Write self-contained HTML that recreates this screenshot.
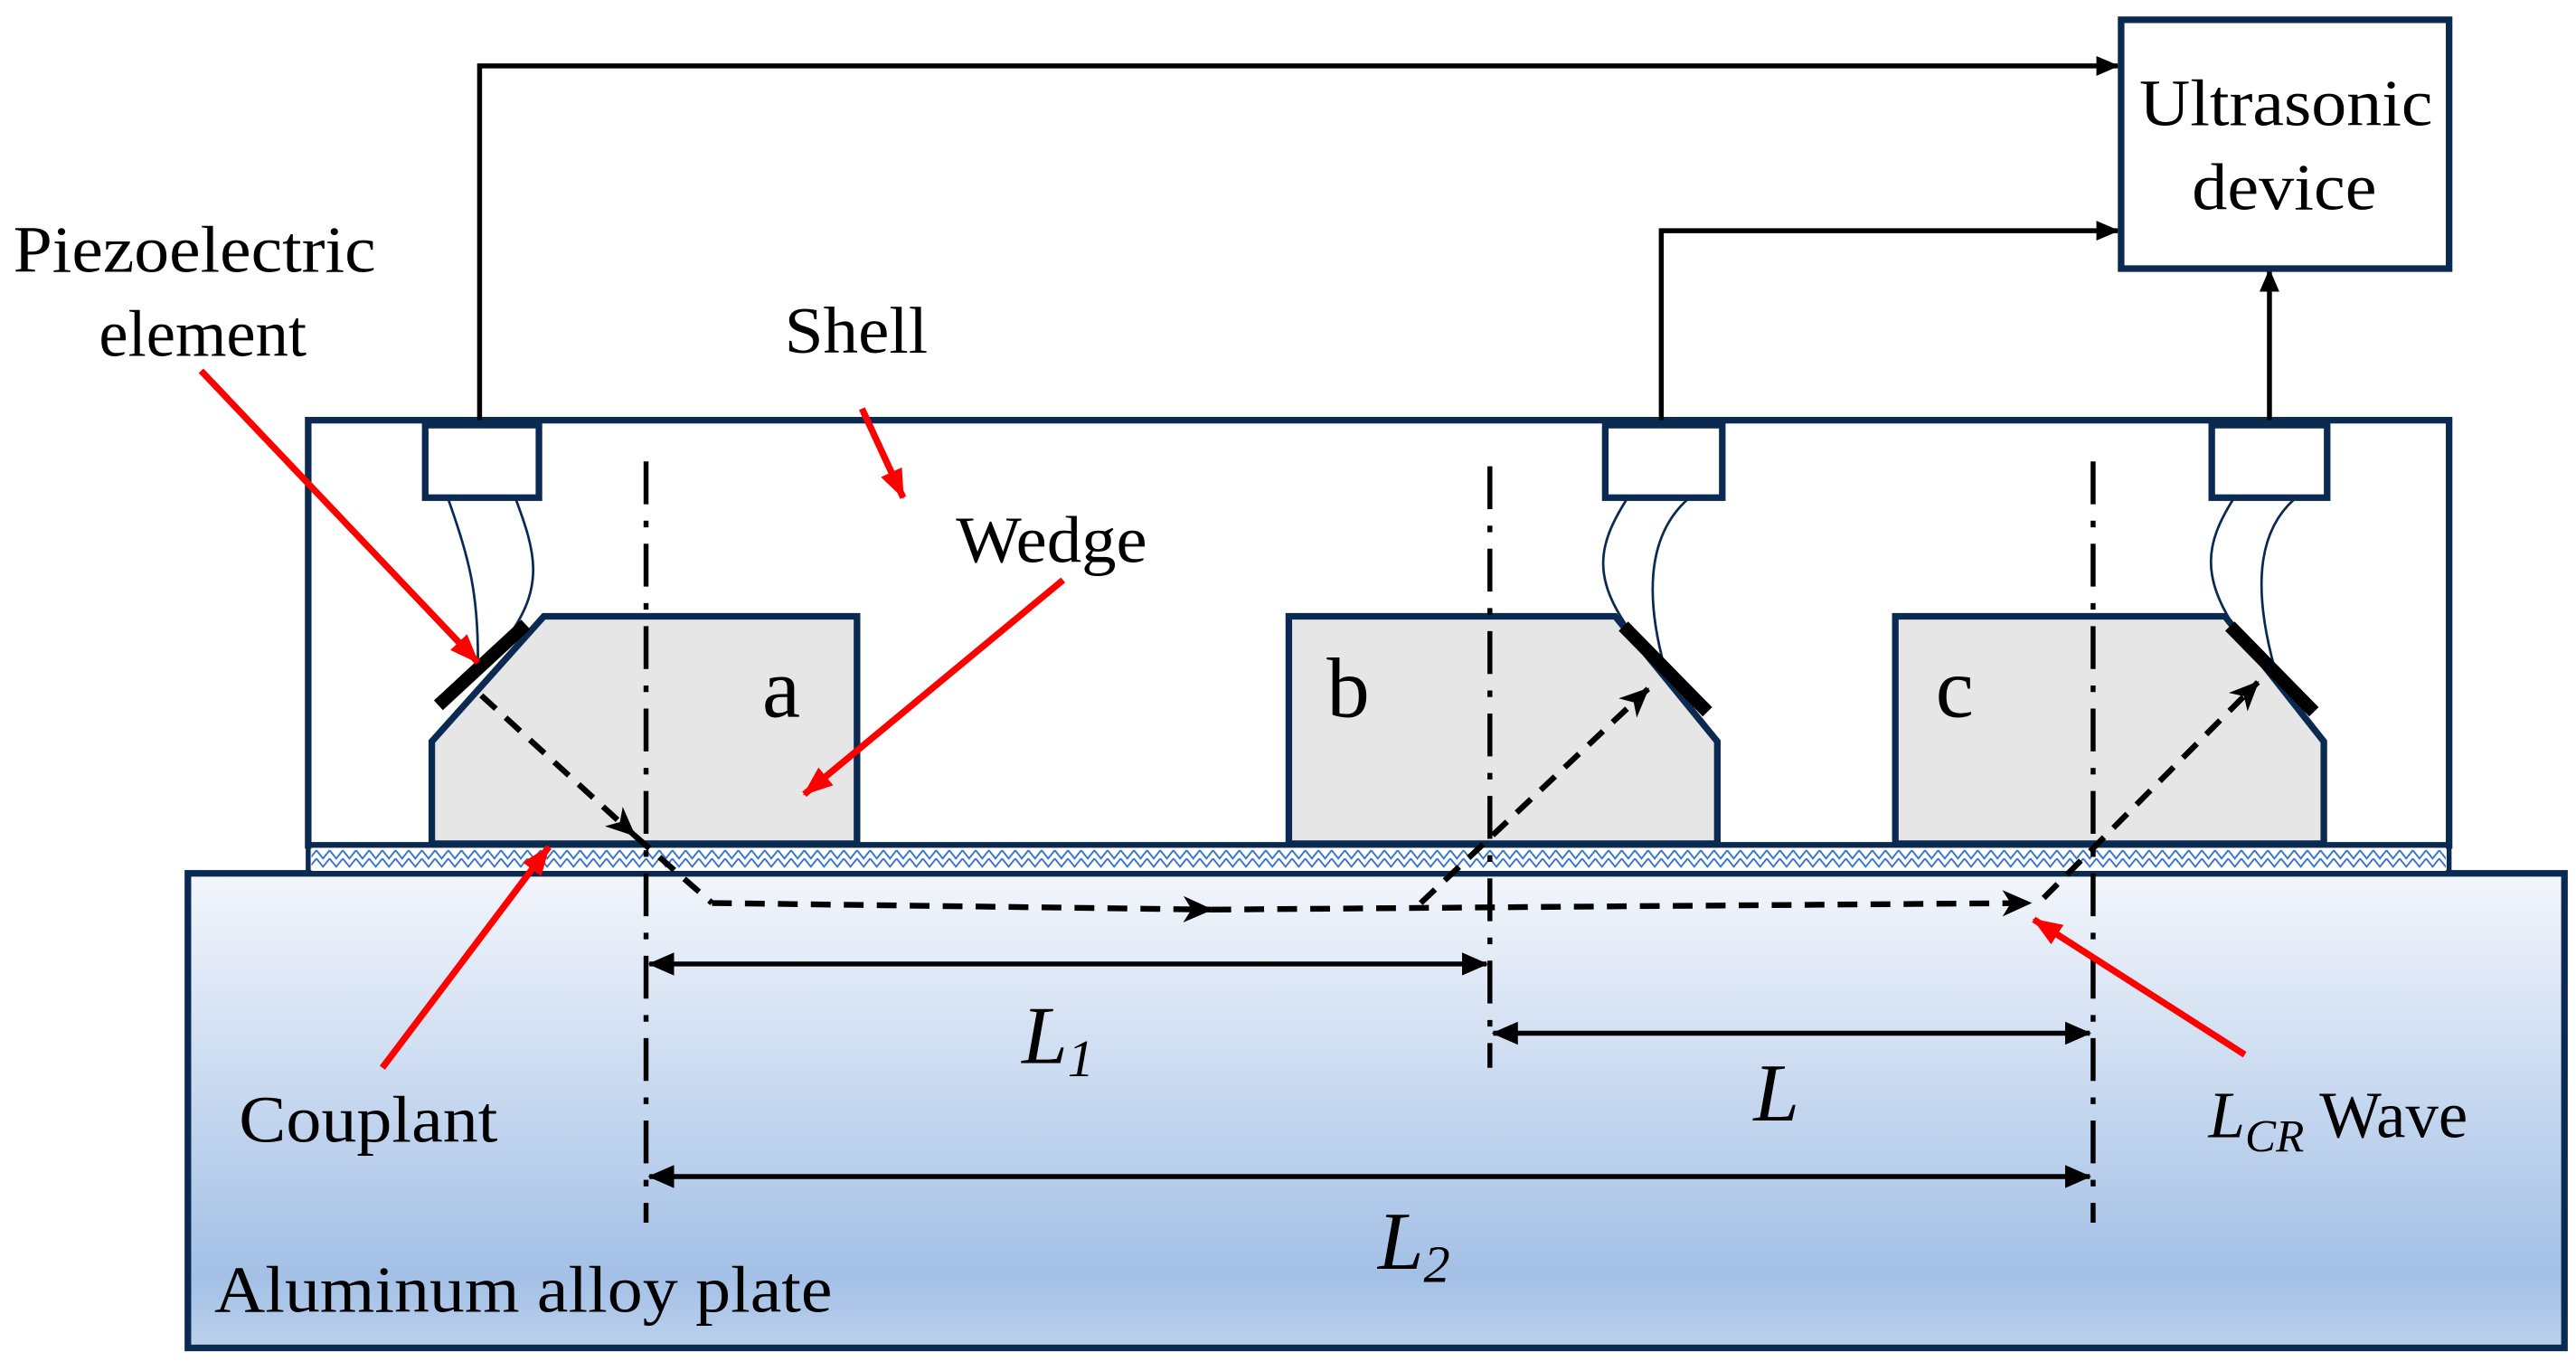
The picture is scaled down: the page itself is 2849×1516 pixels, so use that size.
<!DOCTYPE html>
<html><head><meta charset="utf-8"><style>
html,body{margin:0;padding:0;background:#fff}
svg{display:block}
text{font-family:"Liberation Serif",serif;fill:#000}
</style></head><body>
<svg width="2849" height="1516" viewBox="0 0 1563 832" preserveAspectRatio="none" xmlns="http://www.w3.org/2000/svg">
<defs>
<linearGradient id="pl" x1="0" y1="0" x2="0" y2="1">
<stop offset="0" stop-color="#f3f6fb"/><stop offset="0.85" stop-color="#a3c0e6"/><stop offset="1" stop-color="#bcd0ec"/>
</linearGradient>
<pattern id="wv" width="8" height="16" patternUnits="userSpaceOnUse">
<path d="M0,4 L4,9 L8,4 M0,9 L4,14 L8,9" fill="none" stroke="#2f6fc8" stroke-width="1"/>
</pattern>
<marker id="ah" markerWidth="14" markerHeight="12" refX="13" refY="6" orient="auto" markerUnits="userSpaceOnUse"><path d="M0,0 L14,6 L0,12 Z" fill="#000"/></marker>
<marker id="as" markerWidth="18" markerHeight="16" refX="17" refY="8" orient="auto" markerUnits="userSpaceOnUse"><path d="M0,0 L18,8 L0,16 L5,8 Z" fill="#000"/></marker>
<marker id="ar" markerWidth="18" markerHeight="14" refX="17" refY="7" orient="auto" markerUnits="userSpaceOnUse"><path d="M0,0 L18,7 L0,14 Z" fill="#f00"/></marker>
<marker id="dm" markerWidth="16" markerHeight="14" refX="15" refY="7" orient="auto-start-reverse" markerUnits="userSpaceOnUse"><path d="M0,0 L16,7 L0,14 Z" fill="#000"/></marker>
</defs>
<rect x="114" y="530" width="1442" height="288" fill="url(#pl)" stroke="#0a2a52" stroke-width="4"/>
<rect x="187" y="255" width="1299" height="258" fill="#fff" stroke="#0a2a52" stroke-width="4"/>
<rect x="189" y="514" width="1295" height="15" fill="#fff"/>
<rect x="189" y="514" width="1295" height="15" fill="url(#wv)"/>
<rect x="187" y="513" width="1299" height="17" fill="none" stroke="#0a2a52" stroke-width="3"/>
<g stroke="#000" stroke-width="3" fill="none">
<path d="M291,255 V40 H1285" marker-end="url(#ah)"/>
<path d="M1008,255 V140 H1285" marker-end="url(#ah)"/>
<path d="M1377,255 V164" marker-end="url(#ah)"/>
</g>
<rect x="1287" y="12" width="199" height="151" fill="#fff" stroke="#0a2a52" stroke-width="4"/>
<text x="1298" y="76" font-size="40" textLength="178" lengthAdjust="spacingAndGlyphs">Ultrasonic</text>
<text x="1330" y="127" font-size="40" textLength="112" lengthAdjust="spacingAndGlyphs">device</text>
<g fill="#e6e6e6" stroke="#0a2a52" stroke-width="4">
<path d="M262,512 V450 L330,374 H520 V512 Z"/>
<path d="M782,512 V374 H980 L1042,450 V512 Z"/>
<path d="M1150,512 V374 H1350 L1410,450 V512 Z"/>
</g>
<g fill="#fff" stroke="#0a2a52" stroke-width="4">
<rect x="258" y="258" width="69" height="44"/>
<rect x="974" y="258" width="71" height="44"/>
<rect x="1342" y="258" width="70" height="44"/>
</g>
<g stroke="#0a2a52" stroke-width="1.5" fill="none">
<path d="M272,303 C285,340 290,360 290,400"/>
<path d="M313,303 C325,335 330,355 310,384"/>
<path d="M987,303 C970,330 965,350 990,384"/>
<path d="M1024,303 C1005,320 995,350 1010,405"/>
<path d="M1355,303 C1338,330 1335,350 1358,384"/>
<path d="M1392,303 C1373,320 1365,350 1380,405"/>
</g>
<g stroke="#000" stroke-width="8">
<line x1="266" y1="428" x2="319" y2="379"/>
<line x1="985" y1="380" x2="1036" y2="432"/>
<line x1="1353" y1="380" x2="1404" y2="432"/>
</g>
<g stroke="#000" stroke-width="3" stroke-dasharray="26,10,4,10" fill="none">
<line x1="392" y1="280" x2="392" y2="742"/>
<line x1="904" y1="283" x2="904" y2="648"/>
<line x1="1270" y1="280" x2="1270" y2="742"/>
</g>
<text x="474" y="435" font-size="52" text-anchor="middle">a</text>
<text x="818" y="435" font-size="52" text-anchor="middle">b</text>
<text x="1186" y="435" font-size="52" text-anchor="middle">c</text>
<g stroke="#000" stroke-width="3.5" fill="none" stroke-dasharray="12,8">
<path d="M292,422 L385,507" marker-end="url(#as)"/>
<path d="M385,507 L432,548"/>
<path d="M432,548 L735,552" marker-end="url(#as)"/>
<path d="M735,552 L1232,548" marker-end="url(#as)"/>
<path d="M862,548 L1000,418" marker-end="url(#as)"/>
<path d="M1240,545 L1370,414" marker-end="url(#as)"/>
</g>
<g stroke="#000" stroke-width="3">
<line x1="394" y1="585" x2="902" y2="585" marker-start="url(#dm)" marker-end="url(#dm)"/>
<line x1="906" y1="627" x2="1268" y2="627" marker-start="url(#dm)" marker-end="url(#dm)"/>
<line x1="394" y1="714" x2="1268" y2="714" marker-start="url(#dm)" marker-end="url(#dm)"/>
</g>
<text x="620" y="645" font-size="50" font-style="italic">L<tspan font-size="32" dy="8">1</tspan></text>
<text x="1064" y="680" font-size="50" font-style="italic">L</text>
<text x="836" y="770" font-size="50" font-style="italic">L<tspan font-size="32" dy="8">2</tspan></text>
<text x="8" y="165" font-size="40" textLength="220" lengthAdjust="spacingAndGlyphs">Piezoelectric</text>
<text x="60" y="216" font-size="40" textLength="126" lengthAdjust="spacingAndGlyphs">element</text>
<text x="476" y="214" font-size="40" textLength="87" lengthAdjust="spacingAndGlyphs">Shell</text>
<text x="580" y="341" font-size="40" textLength="116" lengthAdjust="spacingAndGlyphs">Wedge</text>
<text x="145" y="693" font-size="40" textLength="157" lengthAdjust="spacingAndGlyphs">Couplant</text>
<text x="1340" y="690" font-size="40"><tspan font-style="italic">L</tspan><tspan font-style="italic" font-size="28" dy="9">CR</tspan><tspan dy="-9"> Wave</tspan></text>
<text x="130" y="796" font-size="40" textLength="375" lengthAdjust="spacingAndGlyphs">Aluminum alloy plate</text>
<g stroke="#f00" stroke-width="4" fill="none">
<line x1="122" y1="225" x2="290" y2="402" marker-end="url(#ar)"/>
<line x1="523" y1="248" x2="548" y2="302" marker-end="url(#ar)"/>
<line x1="645" y1="352" x2="488" y2="482" marker-end="url(#ar)"/>
<line x1="232" y1="648" x2="333" y2="514" marker-end="url(#ar)"/>
<line x1="1362" y1="640" x2="1234" y2="558" marker-end="url(#ar)"/>
</g>
</svg>
</body></html>
